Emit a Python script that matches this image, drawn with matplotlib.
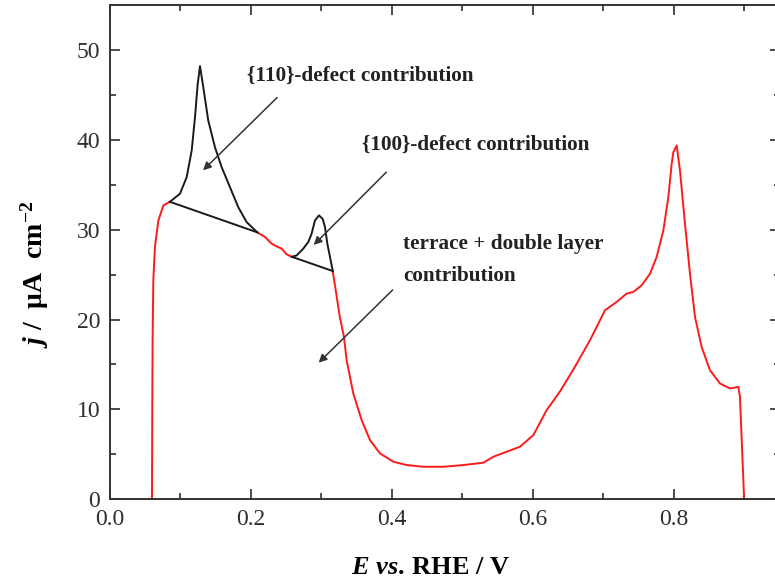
import matplotlib
matplotlib.use("Agg")
import matplotlib.pyplot as plt
from matplotlib.ticker import MultipleLocator, FormatStrFormatter

plt.rcParams["font.family"] = ["Liberation Serif", "DejaVu Serif"]
plt.rcParams["mathtext.fontset"] = "custom"
plt.rcParams["mathtext.rm"] = "Liberation Serif:bold"
plt.rcParams["mathtext.it"] = "Liberation Serif:italic:bold"
plt.rcParams["mathtext.bf"] = "Liberation Serif:bold"

# Positive-going voltammogram, potential E (V vs. RHE) and current density j (uA cm^-2)
# Red trace: hydrogen desorption onset
onset_E = [0.0596, 0.0600, 0.0605, 0.0615, 0.0638, 0.0686, 0.0757, 0.0850]
onset_j = [0.0, 10.0, 18.0, 24.4, 28.1, 31.0, 32.7, 33.1]

# Red trace: segment between the two defect peaks
middle_E = [0.209, 0.2199, 0.2294, 0.2364, 0.2435, 0.2506, 0.2580]
middle_j = [29.7, 29.18, 28.44, 28.14, 27.89, 27.26, 26.98]

# Red trace: from the end of the {100} peak through the double layer and OH region
main_E = [0.316, 0.326, 0.3319, 0.3357, 0.3451, 0.357, 0.3688, 0.383, 0.4019,
          0.4208, 0.4444, 0.4728, 0.501, 0.5296, 0.5437, 0.5627, 0.5816, 0.6005,
          0.6194, 0.6383, 0.657, 0.6809, 0.7021, 0.7187, 0.7329, 0.7423, 0.7542,
          0.766, 0.7754, 0.7849, 0.792, 0.7967, 0.799, 0.8038, 0.8085, 0.8156,
          0.8227, 0.8298, 0.8392, 0.851, 0.8652, 0.8794, 0.8912, 0.8936, 0.8995]
main_j = [25.4, 20.3, 18.07, 15.48, 11.78, 8.81, 6.59, 5.11, 4.18,
          3.81, 3.62, 3.62, 3.81, 4.07, 4.73, 5.29, 5.85, 7.14,
          9.92, 12.0, 14.4, 17.7, 21.03, 21.96, 22.89, 23.07, 23.81,
          25.1, 26.96, 29.9, 33.6, 37.3, 38.6, 39.37, 36.6, 30.67,
          25.1, 20.3, 16.96, 14.37, 12.89, 12.33, 12.51, 11.4, 0.0]

# Black trace: {110} step contribution
peak110_E = [0.0850, 0.0993, 0.1088, 0.1159, 0.1206, 0.1244, 0.1277, 0.1324,
             0.1394, 0.1489, 0.1584, 0.1702, 0.1820, 0.1939, 0.2090]
peak110_j = [33.1, 34.0, 35.84, 38.8, 42.5, 46.2, 48.2, 45.84,
             42.14, 39.18, 36.96, 34.73, 32.5, 30.84, 29.7]

# Black trace: {100} step contribution
peak100_E = [0.2580, 0.2648, 0.2742, 0.2813, 0.2860, 0.2908, 0.2965, 0.3017,
             0.3050, 0.3083, 0.3121, 0.3160]
peak100_j = [26.98, 27.14, 27.89, 28.63, 29.55, 31.03, 31.59, 31.2,
             30.29, 28.44, 26.96, 25.4]

fig = plt.figure(figsize=(7.75, 5.87), dpi=100)
ax = fig.add_axes([0.1419, 0.1494, 0.8642, 0.8421])

red = "#ff1a1a"
blk = "#1a1a1a"
lw = 1.4
for E, j in ((onset_E, onset_j), (middle_E, middle_j), (main_E, main_j)):
    ax.plot(E, j, color=red, lw=lw, solid_joinstyle="round")

# defect peaks and their linear baselines
for E, j in ((peak110_E, peak110_j), (peak100_E, peak100_j)):
    ax.plot(E, j, color=blk, lw=lw, solid_joinstyle="round")
    ax.plot([E[0], E[-1]], [j[0], j[-1]], color=blk, lw=lw)

ax.set_xlim(0.0, 0.95)
ax.set_ylim(0, 55)
ax.xaxis.set_major_locator(MultipleLocator(0.2))
ax.xaxis.set_minor_locator(MultipleLocator(0.1))
ax.yaxis.set_major_locator(MultipleLocator(10))
ax.yaxis.set_minor_locator(MultipleLocator(5))
ax.xaxis.set_major_formatter(FormatStrFormatter("%.1f"))
ax.tick_params(which="both", direction="in", top=True, right=True,
               labelsize=17, colors="#2e2e2e", width=1.2)
ax.tick_params(which="major", length=7, pad=7)
ax.tick_params(which="minor", length=4)
for s in ax.spines.values():
    s.set_linewidth(1.4)
    s.set_color("#333333")

ax.set_xlabel(r"$E$ $vs.\,$RHE / V", fontsize=19, fontweight="bold")
ax.xaxis.label.set_va("center")
ax.xaxis.set_label_coords(0.479, -0.137)
ax.set_ylabel(r"$j$ /  μA  cm$^{-2}$", fontsize=20, fontweight="bold")
ax.yaxis.label.set_va("center")
ax.yaxis.set_label_coords(-0.113, 0.455)

txt = dict(fontsize=15.3, fontweight="bold", color="#222222", ha="left", va="center")
ax.text(0.1943, 47.1, "{110}-defect contribution", **txt)
ax.text(0.357, 39.4, "{100}-defect contribution", **txt)
ax.text(0.416, 28.4, "terrace + double layer", **txt)
ax.text(0.416, 24.8, "contribution", **txt)

arrow = dict(arrowstyle="-|>", color="#333333", lw=1.1, mutation_scale=12,
             shrinkA=0, shrinkB=0)
ax.annotate("", xy=(0.132, 36.6), xytext=(0.237, 44.7), arrowprops=arrow)
ax.annotate("", xy=(0.289, 28.3), xytext=(0.392, 36.4), arrowprops=arrow)
ax.annotate("", xy=(0.296, 15.2), xytext=(0.401, 23.3), arrowprops=arrow)

fig.savefig("out.png", dpi=100)
